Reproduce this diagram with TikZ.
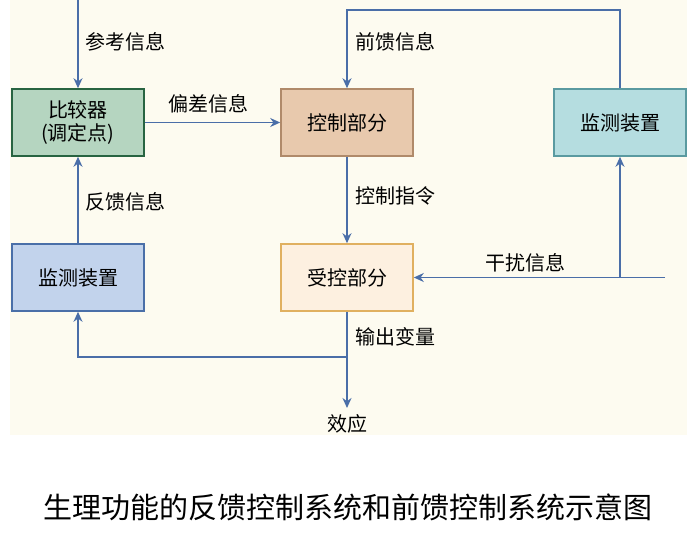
\documentclass[tikz,border=0pt]{standalone}
\usepackage{fontspec}
\setmainfont{Noto Sans CJK SC}
\usetikzlibrary{arrows.meta}
\definecolor{bg}{HTML}{FDFBF0}
\definecolor{arr}{HTML}{4A6EA8}
\tikzset{
 box/.style={draw,line width=1.6pt,minimum width=132pt,minimum height=67pt,font=\fontsize{20}{23}\selectfont,align=center,inner sep=0pt},
 lbl/.style={font=\fontsize{20}{23}\selectfont,anchor=west,inner sep=0pt},
 con/.style={draw=arr,line width=1.5pt,-{Stealth[length=10pt,width=9pt]}},
}
\begin{document}
\begin{tikzpicture}[x=1pt,y=-1pt]
\useasboundingbox (0,0) rectangle (697,537);
\fill[white] (0,0) rectangle (697,537);
\fill[bg] (10,0) rectangle (687,435);
\node[box,draw={rgb,255:red,40;green,100;blue,65},fill={rgb,255:red,181;green,213;blue,192}] (cmp) at (78,122.5) {比较器\\(调定点)};
\node[box,draw={rgb,255:red,176;green,138;blue,106},fill={rgb,255:red,232;green,201;blue,173}] (ctl) at (347,122.5) {控制部分};
\node[box,draw={rgb,255:red,90;green,154;blue,160},fill={rgb,255:red,181;green,221;blue,224}] (monr) at (620,122.5) {监测装置};
\node[box,draw={rgb,255:red,74;green,111;blue,168},fill={rgb,255:red,194;green,211;blue,236}] (monl) at (78,277.5) {监测装置};
\node[box,draw={rgb,255:red,224;green,176;blue,96},fill={rgb,255:red,253;green,240;blue,224}] (plant) at (347,277.5) {受控部分};
\coordinate (in) at (78,0);
\coordinate (top) at (620,10);
\coordinate (topl) at (347,10);
\coordinate (dist) at (665,277.5);
\coordinate (br) at (620,277.5);
\coordinate (split) at (347,357);
\coordinate (fbl) at (78,357);
\node[font=\fontsize{20}{23}\selectfont,inner sep=0pt] (eff) at (347,424) {效应};
\coordinate (effin) at (347,408);
\draw[con] (in) -- (cmp.north);
\draw[con] (cmp.east) -- (ctl.west);
\draw[con] (monr.north) -- (top) -- (topl) -- (ctl.north);
\draw[con] (ctl.south) -- (plant.north);
\draw[con] (dist) -- (plant.east);
\draw[con] (br) -- (monr.south);
\draw[con] (plant.south) -- (effin);
\draw[con] (split) -- (fbl) -- (monl.south);
\draw[con] (monl.north) -- (cmp.south);
\node[lbl] (l1) at (85,42) {参考信息};
\node[lbl,anchor=center] (l2) at (208,104) {偏差信息};
\node[lbl] (l3) at (355,42) {前馈信息};
\node[lbl] (l4) at (355,196) {控制指令};
\node[lbl,anchor=center] (l5) at (525,263) {干扰信息};
\node[lbl] (l6) at (355,337) {输出变量};
\node[lbl] (l7) at (85,202) {反馈信息};
\node[font=\fontsize{29}{32}\selectfont,inner sep=0pt] (cap) at (348,507) {生理功能的反馈控制系统和前馈控制系统示意图};
\end{tikzpicture}
\end{document}
